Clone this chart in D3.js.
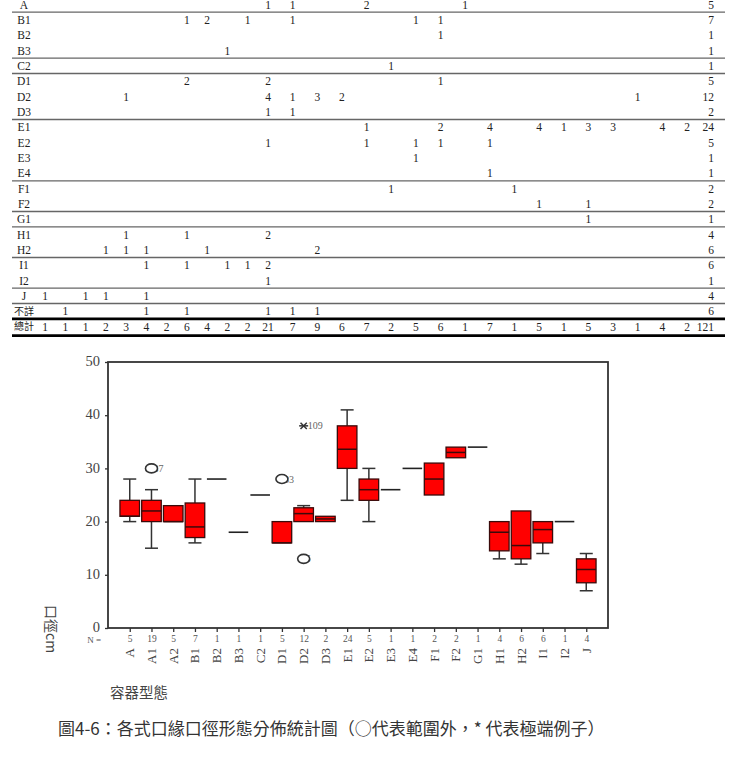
<!DOCTYPE html>
<meta charset="utf-8">
<style>
    body { margin: 0; background: #fff; }
    text { font-family: "Liberation Serif", "DejaVu Serif", serif; }
    .cjk { font-family: "Noto Sans CJK TC", "Noto Sans CJK SC", sans-serif; }
    .axis path { display: none; }
    .axis line { stroke: #333; stroke-width: 1.3px; }
</style>
<svg id="chart" width="732" height="774"></svg>
<script src="https://d3js.org/d3.v7.min.js"></script>
<script>

    // ---- table: counts per diameter column, [column index, count] ----
    var rowNames = ["A", "B1", "B2", "B3", "C2", "D1", "D2", "D3", "E1", "E2", "E3", "E4",
        "F1", "F2", "G1", "H1", "H2", "I1", "I2", "J", "不詳"];
    var rowCells = [
        [[11, 1], [12, 1], [15, 2], [19, 1]],
        [[7, 1], [8, 2], [10, 1], [12, 1], [17, 1], [18, 1]],
        [[18, 1]],
        [[9, 1]],
        [[16, 1]],
        [[7, 2], [11, 2], [18, 1]],
        [[4, 1], [11, 4], [12, 1], [13, 3], [14, 2], [26, 1]],
        [[11, 1], [12, 1]],
        [[15, 1], [18, 2], [20, 4], [22, 4], [23, 1], [24, 3], [25, 3], [27, 4], [28, 2]],
        [[11, 1], [15, 1], [17, 1], [18, 1], [20, 1]],
        [[17, 1]],
        [[20, 1]],
        [[16, 1], [21, 1]],
        [[22, 1], [24, 1]],
        [[24, 1]],
        [[4, 1], [7, 1], [11, 2]],
        [[3, 1], [4, 1], [5, 1], [8, 1], [13, 2]],
        [[5, 1], [7, 1], [9, 1], [10, 1], [11, 2]],
        [[11, 1]],
        [[0, 1], [2, 1], [3, 1], [5, 1]],
        [[1, 1], [5, 1], [7, 1], [11, 1], [12, 1], [13, 1]]
    ];
    var rowTotals = [5, 7, 1, 1, 1, 5, 12, 2, 24, 5, 1, 1, 2, 2, 1, 4, 6, 6, 1, 4, 6];
    var colTotals = [1, 1, 1, 2, 3, 4, 2, 6, 4, 2, 2, 21, 7, 9, 6, 7, 2, 5, 6, 1, 7, 1, 5, 1, 5, 3, 1, 4, 2];
    var grandTotal = 121;
    var groupEnds = ["A", "B3", "C2", "D3", "E4", "F2", "G1", "H2", "I2", "J"];

    // ---- boxplot: rim diameter (cm) by vessel type ----
    var categories = ["A", "A1", "A2", "B1", "B2", "B3", "C2", "D1", "D2", "D3", "E1", "E2",
        "E3", "E4", "F1", "F2", "G1", "H1", "H2", "I1", "I2", "J"];
    var nCounts = [5, 19, 5, 7, 1, 1, 1, 5, 12, 2, 24, 5, 1, 1, 2, 2, 1, 4, 6, 6, 1, 4];
    var mins    = [20, 15, 20, 16, 28, 18, 25, 16, 20, 20, 24, 20, 26, 30, 25, 32, 34, 13, 12, 14, 20, 7];
    var q1s     = [21, 20, 20, 17, 28, 18, 25, 16, 20, 20, 30, 24, 26, 30, 25, 32, 34, 14.5, 13, 16, 20, 8.5];
    var medians = [21, 22, 20, 19, 28, 18, 25, 16, 21.5, 20.5, 33.6, 26, 26, 30, 28, 33, 34, 18, 15.5, 18.5, 20, 11];
    var q3s     = [24, 24, 23, 23.5, 28, 18, 25, 20, 22.6, 21, 38, 28, 26, 30, 31, 34, 34, 20, 22, 20, 20, 13];
    var maxs    = [28, 26, 23, 28, 28, 18, 25, 20, 23, 21, 41, 30, 26, 30, 31, 34, 34, 20, 22, 20, 20, 14];

    var outlierCats   = ["A1", "D1", "D2", "D2"];
    var outlierValues = [30, 28, 13, 38];
    var outlierLabels = ["37", "83", "5", "109"];
    var outlierKinds  = ["o", "o", "o", "*"];

    var svg = d3.select("#chart");

    // ================= table =================
    var colX = d3.scaleLinear().domain([0, 11, 28]).range([45, 268, 687]);
    var rowY = d3.scaleLinear().domain([0, 21]).range([4.5, 326.5]);
    var rowStep = rowY(1) - rowY(0);

    var table = svg.append("g").style("font-size", "11.5px").style("fill", "#222");

    rowNames.forEach(function(name, i) {
        var cy = rowY(i);
        table.append("text")
            .attr("class", name === "不詳" ? "cjk" : null)
            .attr("x", 24).attr("y", cy).attr("dy", "0.35em")
            .attr("text-anchor", "middle")
            .style("font-size", name === "不詳" ? "10px" : null)
            .text(name);
        rowCells[i].forEach(function(c) {
            table.append("text")
                .attr("x", colX(c[0])).attr("y", cy).attr("dy", "0.35em")
                .attr("text-anchor", "middle")
                .text(c[1]);
        });
        table.append("text")
            .attr("x", 714).attr("y", cy).attr("dy", "0.35em")
            .attr("text-anchor", "end")
            .text(rowTotals[i]);
        if (groupEnds.indexOf(name) >= 0) {
            table.append("line")
                .attr("x1", 12).attr("x2", 725)
                .attr("y1", cy + rowStep / 2).attr("y2", cy + rowStep / 2)
                .style("stroke", "#666").style("stroke-width", 1.3);
        }
    });

    // total row
    var totY = rowY(21);
    table.append("text").attr("class", "cjk")
        .attr("x", 24).attr("y", totY).attr("dy", "0.35em")
        .attr("text-anchor", "middle").style("font-size", "10px")
        .text("總計");
    colTotals.forEach(function(v, j) {
        table.append("text")
            .attr("x", colX(j)).attr("y", totY).attr("dy", "0.35em")
            .attr("text-anchor", "middle")
            .text(v);
    });
    table.append("text")
        .attr("x", 714).attr("y", totY).attr("dy", "0.35em")
        .attr("text-anchor", "end")
        .text(grandTotal);
    [totY - rowStep / 2, totY + rowStep / 2 + 1.5].forEach(function(ly) {
        table.append("line")
            .attr("x1", 12).attr("x2", 725)
            .attr("y1", ly).attr("y2", ly)
            .style("stroke", "#000").style("stroke-width", 2.8);
    });

    // ================= boxplot =================
    var plotLeft = 108, plotRight = 608, plotTop = 362, plotBottom = 628;

    var x = d3.scalePoint().domain(categories).range([plotLeft, plotRight]).padding(1);
    var y = d3.scaleLinear().domain([0, 50]).range([plotBottom, plotTop]);
    var step = x.step();
    var boxW = step * 0.9;
    var capW = 13;

    var plot = svg.append("g");

    // y axis
    var yAxis = plot.append("g")
        .attr("class", "axis")
        .attr("transform", "translate(" + plotLeft + ",0)")
        .call(d3.axisLeft(y).tickValues([0, 10, 20, 30, 40, 50]).tickSize(3).tickPadding(5));
    yAxis.selectAll("text")
        .attr("dy", "0.25em")
        .style("font-family", "'Liberation Serif', serif")
        .style("font-size", "14.5px")
        .style("fill", "#444");

    // x axis with N counts
    var xAxis = plot.append("g")
        .attr("class", "axis")
        .attr("transform", "translate(0," + plotBottom + ")")
        .call(d3.axisBottom(x).tickSize(4).tickPadding(3)
            .tickFormat(function(d, i) { return nCounts[i]; }));
    xAxis.selectAll("text")
        .style("font-family", "'Liberation Serif', serif")
        .style("font-size", "9.5px")
        .style("fill", "#555");

    plot.append("text")
        .attr("x", 101).attr("y", plotBottom + 15)
        .attr("text-anchor", "end")
        .style("font-size", "9px").style("fill", "#555")
        .text("N =");

    // category labels (rotated)
    plot.selectAll(".cat")
        .data(categories)
        .enter().append("text")
        .attr("class", "cat")
        .attr("transform", function(d) { return "translate(" + (x(d) + 4.5) + "," + 648 + ") rotate(-90)"; })
        .attr("text-anchor", "end")
        .style("font-size", "13px")
        .style("fill", "#444")
        .text(function(d) { return d; });

    // boxes
    categories.forEach(function(c, i) {
        var cx = x(c);
        var g = plot.append("g");
        if (mins[i] === maxs[i]) {
            g.append("line")
                .attr("x1", cx - boxW / 2).attr("x2", cx + boxW / 2)
                .attr("y1", y(medians[i])).attr("y2", y(medians[i]))
                .style("stroke", "#222").style("stroke-width", 1.6);
            return;
        }
        if (maxs[i] > q3s[i]) {
            g.append("line").attr("x1", cx).attr("x2", cx)
                .attr("y1", y(maxs[i])).attr("y2", y(q3s[i]))
                .style("stroke", "#333").style("stroke-width", 1.5);
            g.append("line").attr("x1", cx - capW / 2).attr("x2", cx + capW / 2)
                .attr("y1", y(maxs[i])).attr("y2", y(maxs[i]))
                .style("stroke", "#333").style("stroke-width", 1.5);
        }
        if (mins[i] < q1s[i]) {
            g.append("line").attr("x1", cx).attr("x2", cx)
                .attr("y1", y(q1s[i])).attr("y2", y(mins[i]))
                .style("stroke", "#333").style("stroke-width", 1.5);
            g.append("line").attr("x1", cx - capW / 2).attr("x2", cx + capW / 2)
                .attr("y1", y(mins[i])).attr("y2", y(mins[i]))
                .style("stroke", "#333").style("stroke-width", 1.5);
        }
        g.append("rect")
            .attr("x", cx - boxW / 2).attr("width", boxW)
            .attr("y", y(q3s[i])).attr("height", y(q1s[i]) - y(q3s[i]))
            .style("fill", "#ff0000")
            .style("stroke", "#3a0a0a").style("stroke-width", 1.3);
        g.append("line")
            .attr("x1", cx - boxW / 2).attr("x2", cx + boxW / 2)
            .attr("y1", y(medians[i])).attr("y2", y(medians[i]))
            .style("stroke", "#3a0a0a").style("stroke-width", 1.5);
    });

    // outliers and extremes
    outlierCats.forEach(function(c, k) {
        var cx = x(c), cy = y(outlierValues[k]);
        if (outlierKinds[k] === "o") {
            plot.append("text")
                .attr("x", cx + 2).attr("y", cy).attr("dy", "0.35em")
                .style("font-size", "10px").style("fill", "#666")
                .text(outlierLabels[k]);
            plot.append("ellipse")
                .attr("cx", cx).attr("cy", cy).attr("rx", 6).attr("ry", 4.5)
                .style("fill", "#fff").style("stroke", "#333").style("stroke-width", 1.6);
        } else {
            var s = 4.5;
            [[-s, 0, s, 0], [-s * 0.7, -s * 0.7, s * 0.7, s * 0.7], [-s * 0.7, s * 0.7, s * 0.7, -s * 0.7]]
                .forEach(function(l) {
                    plot.append("line")
                        .attr("x1", cx + l[0]).attr("y1", cy + l[1])
                        .attr("x2", cx + l[2]).attr("y2", cy + l[3])
                        .style("stroke", "#333").style("stroke-width", 1.5);
                });
            plot.append("text")
                .attr("x", cx + 4).attr("y", cy).attr("dy", "0.35em")
                .style("font-size", "10px").style("fill", "#666")
                .text(outlierLabels[k]);
        }
    });

    // frame
    plot.append("rect")
        .attr("x", plotLeft).attr("y", plotTop)
        .attr("width", plotRight - plotLeft).attr("height", plotBottom - plotTop)
        .style("fill", "none").style("stroke", "#333").style("stroke-width", 1.8);

    // axis titles
    svg.append("text").attr("class", "cjk")
        .attr("transform", "translate(46,605) rotate(90)")
        .style("font-size", "14px").style("fill", "#444")
        .text("口徑cm");

    svg.append("text").attr("class", "cjk")
        .attr("x", 110).attr("y", 698)
        .style("font-size", "14.5px").style("fill", "#444")
        .text("容器型態");

    // caption
    svg.append("text").attr("class", "cjk")
        .attr("x", 58).attr("y", 735)
        .style("font-size", "17px").style("fill", "#333")
        .text("圖4-6：各式口緣口徑形態分佈統計圖（○代表範圍外，* 代表極端例子）");

</script>
